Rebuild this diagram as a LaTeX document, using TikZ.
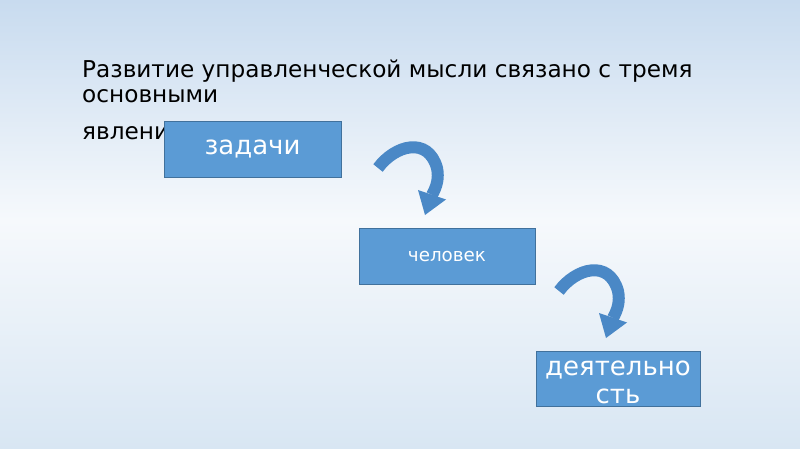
\documentclass[tikz,border=0pt]{standalone}
\usepackage{fontspec}
\setmainfont{DejaVu Sans}
\definecolor{bgtop}{HTML}{C8DBEF}
\definecolor{bgmid}{HTML}{F6F9FC}
\definecolor{bgbot}{HTML}{D8E6F3}
\definecolor{boxfill}{HTML}{5B9BD5}
\definecolor{boxline}{HTML}{41719C}
\definecolor{arrowcol}{HTML}{4A88C6}
\tikzset{
  bluebox/.style={draw=boxline, line width=0.8pt, fill=boxfill, inner sep=0pt},
  boxtext/.style={text=white, font=\fontsize{26}{28}\selectfont, align=center},
  maintext/.style={anchor=base west, inner sep=0pt, font=\fontsize{23.2}{25}\selectfont},
  curvearrow/.style={draw=arrowcol, line width=12pt, line cap=butt},
  arrowhead/.style={fill=arrowcol, draw=none}
}
\begin{document}
\begin{tikzpicture}[x=1pt, y=-1pt]
\useasboundingbox (0,0) rectangle (800,449);
% background
\shade[top color=bgtop, bottom color=bgmid] (0,0) rectangle (800,220);
\shade[top color=bgmid, bottom color=bgbot] (0,220) rectangle (800,449);
% title text
\node[maintext] (t1) at (82,78) {Развитие управленческой мысли связано с тремя};
\node[maintext] (t2) at (82,103) {основными};
\node[maintext] (t3) at (82,140) {явлени};
% boxes
\path[bluebox] (164,121) rectangle (341,177);
\node[boxtext] (b1) at (252.5,149) {задачи};
\path[bluebox] (359,228) rectangle (535,284);
\node[boxtext, font=\fontsize{18.3}{20}\selectfont] (b2) at (447,257) {человек};
\path[bluebox] (536,351) rectangle (700,406);
\node[boxtext, anchor=base] (b3a) at (618,375) {деятельно};
\node[boxtext, anchor=base] (b3b) at (618,403) {сть};
% curved arrows
\foreach \dx/\dy/\nm in {0/0/a1, 181/123/a2}{
  \begin{scope}[shift={(\dx,\dy)}]
    \coordinate (\nm s) at (378,168);
    \coordinate (\nm e) at (432,195);
    \draw[curvearrow] (\nm s) .. controls (395,145) and (428,136) .. (437,168) .. controls (439,178) and (437,186) .. (\nm e);
    \fill[arrowhead] (418,190) -- (446,199.5) -- (425,215) -- cycle;
  \end{scope}
}
\end{tikzpicture}
\end{document}
